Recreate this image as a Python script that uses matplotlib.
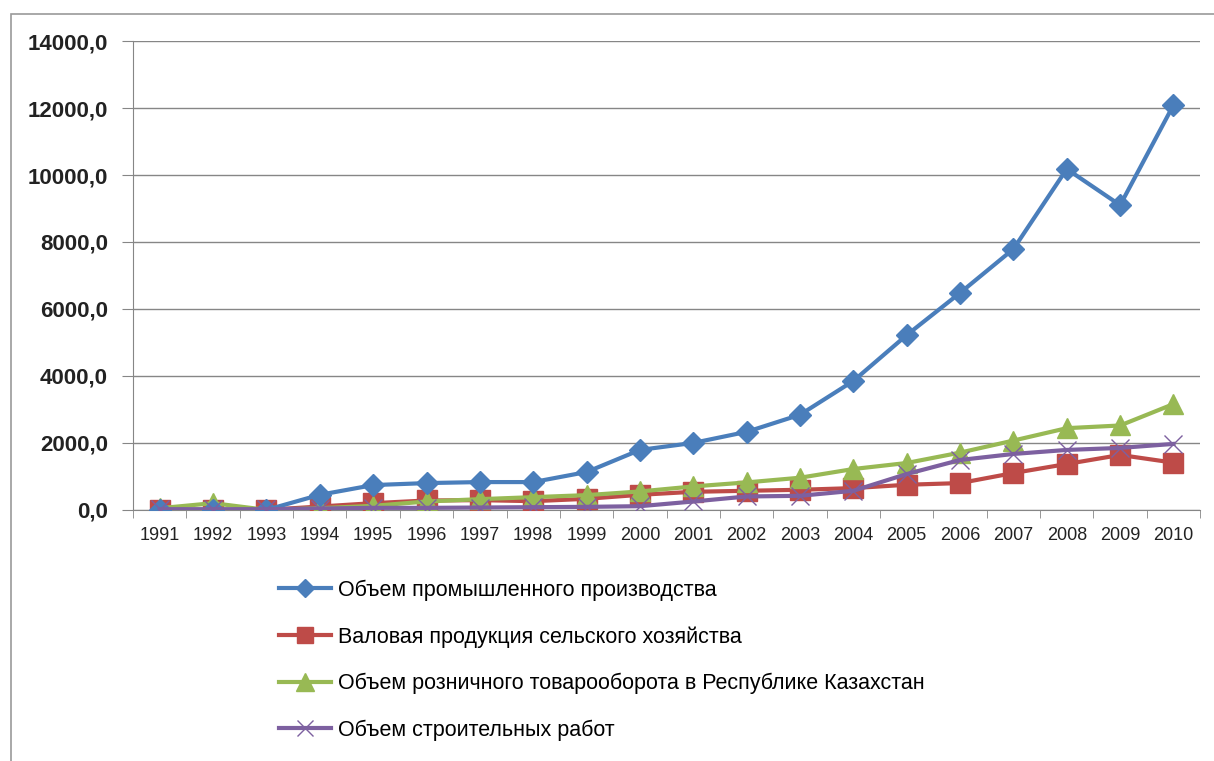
import matplotlib.pyplot as plt
from matplotlib.patches import Rectangle
import numpy as np

# years on the category axis
years = [str(y) for y in range(1991, 2011)]

# series values
industry = [0, 0, 0, 450, 740, 800, 830, 830, 1130, 1790,
            2000, 2330, 2840, 3850, 5220, 6480, 7790, 10180, 9100, 12090]
agriculture = [0, 0, 0, 100, 200, 280, 290, 260, 330, 450,
               540, 570, 600, 650, 750, 800, 1100, 1370, 1640, 1410]
retail = [50, 200, 0, 50, 120, 250, 320, 380, 440, 550,
          700, 820, 960, 1220, 1400, 1710, 2070, 2440, 2520, 3160]
construction = [20, 20, 20, 40, 60, 60, 70, 80, 90, 110,
                250, 400, 420, 570, 1070, 1490, 1670, 1790, 1850, 1970]

labels = ["Объем промышленного производства",
          "Валовая продукция сельского хозяйства",
          "Объем розничного товарооборота в Республике Казахстан",
          "Объем строительных работ"]

yticks = np.arange(0, 14001, 2000)

plt.rcParams['font.family'] = ['Liberation Sans', 'DejaVu Sans']

fig = plt.figure(figsize=(12.14, 7.61), dpi=100)
ax = fig.add_axes([0.1096, 0.330, 0.879, 0.616])

# outer chart border
fig.patches.append(Rectangle((11 / 1214, -0.01), 1.2, 1 - 14 / 761 + 0.01,
                             transform=fig.transFigure, fill=False,
                             edgecolor='#9a9a9a', lw=1.2))

x = np.arange(len(years))
ax.plot(x, industry, color='#4A7EBB', lw=3, marker='D', ms=11,
        label=labels[0], zorder=5)
ax.plot(x, agriculture, color='#BE4B48', lw=3, marker='s', ms=14,
        label=labels[1], zorder=3)
ax.plot(x, retail, color='#98B954', lw=3, marker='^', ms=15,
        label=labels[2], zorder=4)
ax.plot(x, construction, color='#7D60A0', lw=3, marker='x', ms=13,
        mew=1, label=labels[3], zorder=6)

ax.set_xlim(-0.5, len(years) - 0.5)
ax.set_ylim(0, 14000)
ax.set_yticks(yticks)
ax.set_yticklabels([f"{v},0" for v in yticks], fontsize=16, fontweight='bold',
                   color='#222222')
ax.set_xticks(x)
ax.set_xticklabels(years, fontsize=13, color='#222222')
ax.set_xticks(np.arange(-0.5, len(years)), minor=True)
ax.tick_params(axis='x', which='major', length=0, pad=12)
ax.tick_params(axis='x', which='minor', length=6, color='#868686')
ax.tick_params(axis='y', length=8, color='#868686', pad=10)

ax.grid(axis='y', color='#868686', lw=1)
ax.set_axisbelow(True)
for s in ['top', 'right']:
    ax.spines[s].set_visible(False)
for s in ['left', 'bottom']:
    ax.spines[s].set_color('#868686')

fig.legend(loc='upper left', bbox_to_anchor=(260 / 1214, 1 - 560 / 761),
           frameon=False, fontsize=15.5, labelspacing=1.18,
           handlelength=2.4, handletextpad=0.3, markerscale=0.85)

fig.savefig('out.png', dpi=100)
